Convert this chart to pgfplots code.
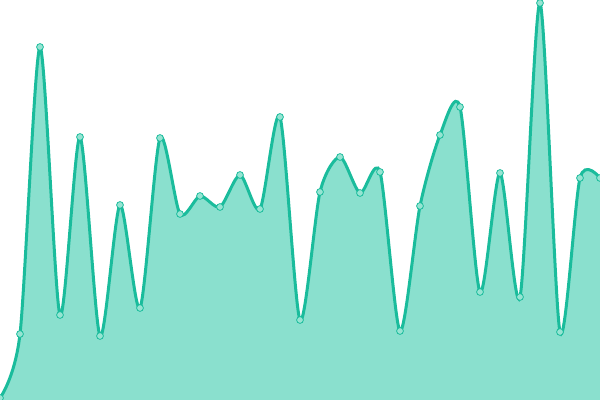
\documentclass[border=0pt]{standalone}
\usepackage{pgfplots}
\pgfplotsset{compat=1.18}
\definecolor{ln}{RGB}{26,188,156}
\definecolor{fl}{RGB}{138,224,206}
\definecolor{mk}{RGB}{150,228,210}
\pgfplotstableread{
x y
0 2
20 66
40 353
60 85
80 263
100 64
120 195
140 92
160 262
180 186
200 204
220 193
240 225
260 191
280 283
300 80
320 208
340 243
360 207
380 228
400 69
420 194
440 265
460 293
480 108
500 227
520 103
540 397
560 68
580 222
600 222
}\data
\begin{document}
\begin{tikzpicture}
\useasboundingbox (0,0) rectangle (300pt,200pt);
\begin{axis}[hide axis, scale only axis, width=300pt, height=200pt,
  xmin=0, xmax=600, ymin=0, ymax=400, clip=true, anchor=south west, at={(0,0)}]
\addplot[draw=none, fill=fl, smooth, tension=0.45] table {\data} \closedcycle;
\addplot[ln, line width=1.5pt, smooth, tension=0.45, mark=*, mark size=1.7pt,
  mark options={fill=mk, draw=ln, line width=0.4pt}] table {\data};
\end{axis}
\end{tikzpicture}
\end{document}
